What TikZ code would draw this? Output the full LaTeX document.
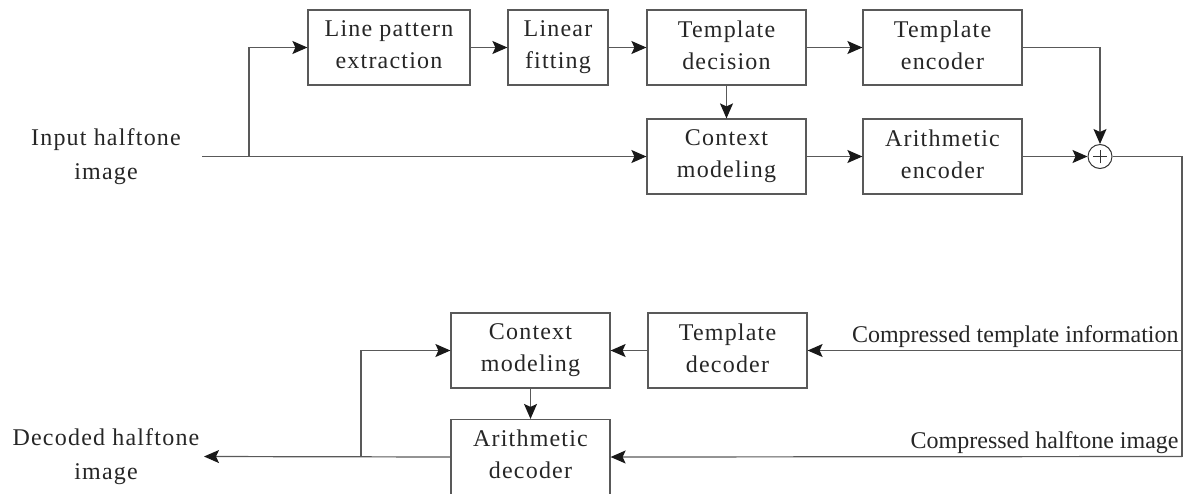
\documentclass[tikz,border=0pt]{standalone}
\usepackage{fontspec}
\setmainfont{Liberation Serif}
\newfontfamily\spaced[LetterSpace=5]{Liberation Serif}
\usetikzlibrary{arrows.meta}
\begin{document}
\begin{tikzpicture}[x=0.5pt,y=-0.5pt,
		blk/.style={draw=black!65,line width=0.6pt,minimum width=79.5pt,minimum height=37.5pt,inner sep=0pt,align=center,font=\spaced\fontsize{12}{16}\selectfont,text=black!85,
			execute at begin node={\rule{0pt}{11pt}},execute at end node={\rule[-2.7pt]{0pt}{0pt}}},
		lbl/.style={inner sep=0pt,align=center,font=\fontsize{12}{17}\selectfont,text=black!85},
		wire/.style={draw=black!65,line width=0.6pt},
		arr/.style={wire,-{Stealth[length=7.5pt,width=6.5pt,inset=1.5pt,color=black!90]}}]
		\useasboundingbox (0,0) rectangle (1187,493);

		% encoder
		\node[blk,minimum width=81pt] (lpe) at (389,47.5) {Line pattern\\extraction};
		\node[blk,minimum width=50pt] (lfit) at (558,47.5) {Linear\\fitting};
		\node[blk] (tdec) at (726.5,47.5) {Template\\decision};
		\node[blk] (tenc) at (942.5,47.5) {Template\\encoder};
		\node[blk] (cmod) at (726.5,156.5) {Context\\modeling};
		\node[blk] (aenc) at (942.5,156.5) {Arithmetic\\encoder};
		\node[draw=black!80,circle,minimum size=12pt,inner sep=0pt,line width=0.5pt] (sum) at (1100,156.5) {};
		\draw[black!80,line width=0.5pt] ([xshift=-3.4pt]sum.center) -- ([xshift=3.4pt]sum.center)
			([yshift=-3.4pt]sum.center) -- ([yshift=3.4pt]sum.center);

		\node[lbl,font=\spaced\fontsize{12}{17}\selectfont] (inp) at (106,157) {Input halftone\\image};
		\coordinate (inl) at (202,156.5);
		\coordinate (br) at (249,156.5);
		\draw[arr] (inl) -- (cmod.west);
		\draw[arr] (br) |- (lpe.west);
		\draw[arr] (lpe) -- (lfit);
		\draw[arr] (lfit) -- (tdec);
		\draw[arr] (tdec) -- (tenc);
		\draw[arr] (tdec) -- (cmod);
		\draw[arr] (cmod) -- (aenc);
		\draw[arr] (aenc) -- (sum);
		\draw[arr] (tenc.east) -| (sum.north);

		% channel
		\coordinate (rm) at (1182,350.5);
		\coordinate (rb) at (1182,456.5);
		\draw[wire] (sum.east) -| (rb);
		\node[lbl,anchor=base east] (cti) at (1179,342) {Compressed template information};
		\node[lbl,anchor=base east] (chi) at (1179,448) {Compressed halftone image};

		% decoder
		\node[blk] (tdecd) at (727.5,350.5) {Template\\decoder};
		\node[blk] (cmod2) at (530.5,350.5) {Context\\modeling};
		\node[blk] (adec) at (530.5,457) {Arithmetic\\decoder};
		\draw[arr] (rm) -- (tdecd.east);
		\draw[arr] (rb) -- (adec.east);
		\draw[arr] (tdecd) -- (cmod2);
		\draw[arr] (cmod2) -- (adec);

		\node[lbl,font=\spaced\fontsize{12}{17}\selectfont] (outp) at (106,457) {Decoded halftone\\image};
		\coordinate (outl) at (204,456.5);
		\coordinate (fb) at (361,456.5);
		\draw[arr] (adec.west) -- (outl);
		\draw[arr] (fb) |- (cmod2.west);
	\end{tikzpicture}
\end{document}
